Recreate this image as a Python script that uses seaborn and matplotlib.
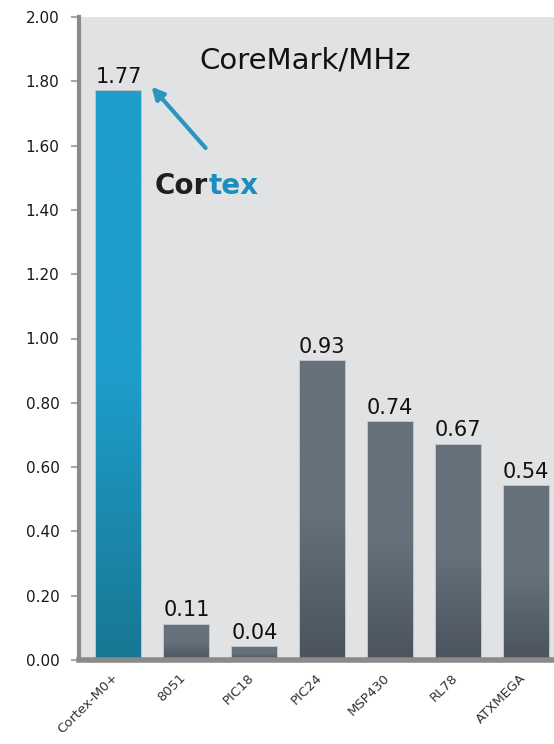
import numpy as np
import pandas as pd
import matplotlib
matplotlib.use("Agg")
import matplotlib.pyplot as plt
import matplotlib.transforms as mtransforms
from matplotlib.colors import LinearSegmentedColormap
import seaborn as sns

# ---- data ----
processors = ["Cortex-M0+", "8051", "PIC18", "PIC24", "MSP430", "RL78", "ATXMEGA"]
coremark_per_mhz = [1.77, 0.11, 0.04, 0.93, 0.74, 0.67, 0.54]
y_ticks = [0.0, 0.2, 0.4, 0.6, 0.8, 1.0, 1.2, 1.4, 1.6, 1.8, 2.0]
chart_title = "CoreMark/MHz"
logo_left, logo_right = "Cor", "tex"

bar_tops = ["#1f9dcb"] + ["#66717c"] * 6
bar_bottoms = ["#177792"] + ["#4a535e"] * 6

df = pd.DataFrame({"processor": processors, "value": coremark_per_mhz})

sns.set_theme(style="white")
plt.rcParams["font.family"] = ["DejaVu Sans"]

fig = plt.figure(figsize=(5.54, 7.44), dpi=100, facecolor="white")
left = 79 / 554
bottom = 1 - 660 / 744
top = 1 - 17 / 744
ax = fig.add_axes([left, bottom, 1 - left, top - bottom])
ax.set_facecolor("#e1e2e4")

sns.barplot(data=df, x="processor", y="value", hue="processor",
            palette=bar_tops, width=0.66, legend=False, ax=ax,
            edgecolor="#b9bdc1", linewidth=1.2, saturation=1)

# vertical gradient inside each bar
grad = np.linspace(0, 1, 256).reshape(-1, 1)
patches = sorted(ax.patches, key=lambda p: p.get_x())
for patch, c_top, c_bot in zip(patches, bar_tops, bar_bottoms):
    x0, y0 = patch.get_x(), patch.get_y()
    w, h = patch.get_width(), patch.get_height()
    cmap = LinearSegmentedColormap.from_list("g", [c_bot, c_top, c_top])
    im = ax.imshow(grad, cmap=cmap, origin="lower",
                   extent=[x0, x0 + w, y0, y0 + h], aspect="auto",
                   zorder=patch.get_zorder() + 0.1)
    im.set_clip_path(patch)

# value labels
for cont in ax.containers:
    ax.bar_label(cont, fmt="%.2f", padding=3, fontsize=15, color="#111111")

ax.set_xlim(-0.58, 6.41)
ax.set_ylim(0, 2.0)
ax.set_yticks(y_ticks)
ax.set_yticklabels([f"{t:.2f}" for t in y_ticks])
ax.set_xticks(range(len(processors)))
ax.set_xticklabels(processors, rotation=45, ha="right", rotation_mode="anchor",
                   fontsize=9.5, color="#333333")
ax.set_xlabel("")
ax.set_ylabel("")

ax.tick_params(axis="y", left=True, length=6, width=1.5, color="#a8a8a8",
               labelsize=11, pad=8, labelcolor="#1a1a1a")
ax.tick_params(axis="x", bottom=False, length=0, pad=8)
for lab in ax.get_xticklabels():
    lab.set_transform(lab.get_transform() +
                      mtransforms.ScaledTranslation(-7 / 100, 0, fig.dpi_scale_trans))

for s in ["top", "right"]:
    ax.spines[s].set_visible(False)
ax.spines["left"].set_color("#8a8a8a")
ax.spines["left"].set_linewidth(3)
ax.spines["bottom"].set_color("#8a8a8a")
ax.spines["bottom"].set_linewidth(4)

# title inside the plot
trans = mtransforms.blended_transform_factory(ax.transAxes, ax.transData)
ax.text(0.477, 1.866, chart_title, transform=trans, ha="center", va="center",
        fontsize=21, color="#111111")

# arrow pointing to the Cortex bar
ax.annotate("", xy=(0.46, 1.79), xytext=(1.31, 1.586),
            arrowprops=dict(arrowstyle="-|>", color="#2b95bd", lw=3,
                            mutation_scale=18))

# Cortex logo text
t1 = ax.text(0.54, 1.43, logo_left, fontsize=20, fontweight="bold",
             color="#1e1e1e", va="bottom", ha="left")
ax.annotate(logo_right, xy=(1, 0), xycoords=t1, va="bottom", ha="left",
            fontsize=20, fontweight="bold", color="#1a8fbf")

fig.savefig("out.png", dpi=100, facecolor=fig.get_facecolor())
